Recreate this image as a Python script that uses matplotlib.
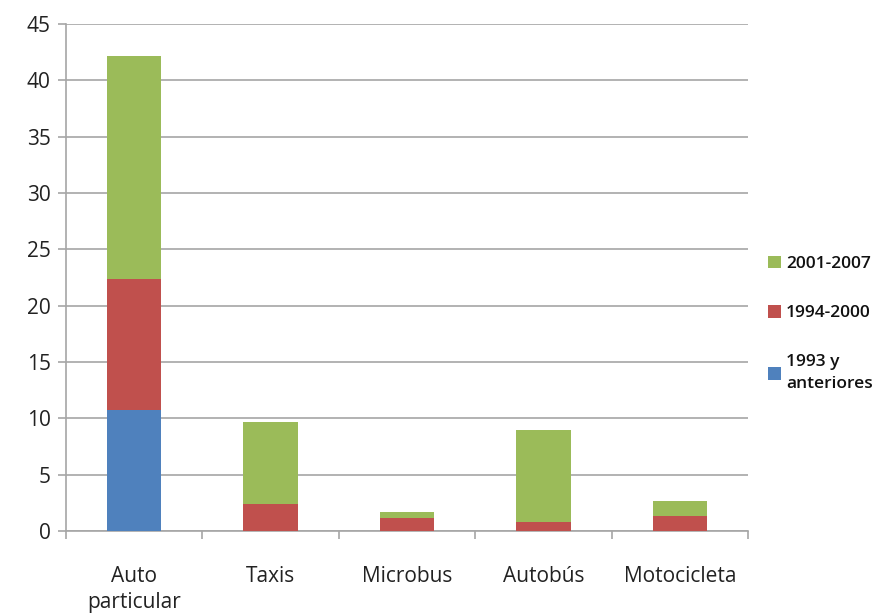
import matplotlib
matplotlib.use("Agg")
import matplotlib.pyplot as plt
import numpy as np

categories = ["Auto\nparticular", "Taxis", "Microbus", "Autobús", "Motocicleta"]
s1993 = [10.75, 0, 0, 0, 0]
s1994 = [11.6, 2.4, 1.15, 0.8, 1.36]
s2001 = [19.85, 7.27, 0.55, 8.2, 1.27]
series_labels = ["1993 y\nanteriores", "1994-2000", "2001-2007"]
colors = ["#4f81bd", "#c0504d", "#9bbb59"]
yticks = [0, 5, 10, 15, 20, 25, 30, 35, 40, 45]

plt.rcParams['font.family'] = ['Open Sans', 'DejaVu Sans']
fig = plt.figure(figsize=(8.83, 6.15), dpi=100)
ax = fig.add_axes([66/883, 1-531/615, (748-66)/883, (531-24)/615])

x = np.arange(len(categories))
bottom = np.zeros(len(categories))
handles = []
for vals, lab, c in zip([s1993, s1994, s2001], series_labels, colors):
    b = ax.bar(x, vals, width=0.4, bottom=bottom, color=c, label=lab, zorder=3)
    handles.append(b)
    bottom += np.array(vals)

ax.set_xlim(-0.5, len(categories) - 0.5)
ax.set_ylim(0, 45)
ax.set_yticks(yticks)
ax.set_yticklabels([str(v) for v in yticks], fontsize=15, color="#222222")
ax.yaxis.grid(True, color="#a6a6a6", linewidth=1.2, zorder=0)
ax.set_axisbelow(True)
ax.set_xticks(x)
ax.set_xticklabels(categories, fontsize=15, color="#222222", linespacing=1.35)
ax.set_xticks(np.arange(-0.5, len(categories), 1), minor=True)
ax.tick_params(axis='x', which='major', length=0, pad=25)
ax.tick_params(axis='x', which='minor', length=6, color="#a6a6a6", width=1.2)
ax.tick_params(axis='y', length=6, color="#a6a6a6", width=1.2, pad=5)
for s in ["top", "right"]:
    ax.spines[s].set_visible(False)
for s in ["left", "bottom"]:
    ax.spines[s].set_color("#a6a6a6")
    ax.spines[s].set_linewidth(1.2)

leg = fig.legend(handles[::-1], [h.get_label() for h in handles[::-1]],
                 loc="center left", bbox_to_anchor=(752/883, 1-324/615),
                 frameon=False, fontsize=12.5, handlelength=0.75, handleheight=0.75,
                 handletextpad=0.3, labelspacing=1.9)
for t in leg.get_texts():
    t.set_fontweight("semibold")
    t.set_color("#111111")
    t.set_linespacing(1.5)

fig.savefig("out.png", dpi=100)
